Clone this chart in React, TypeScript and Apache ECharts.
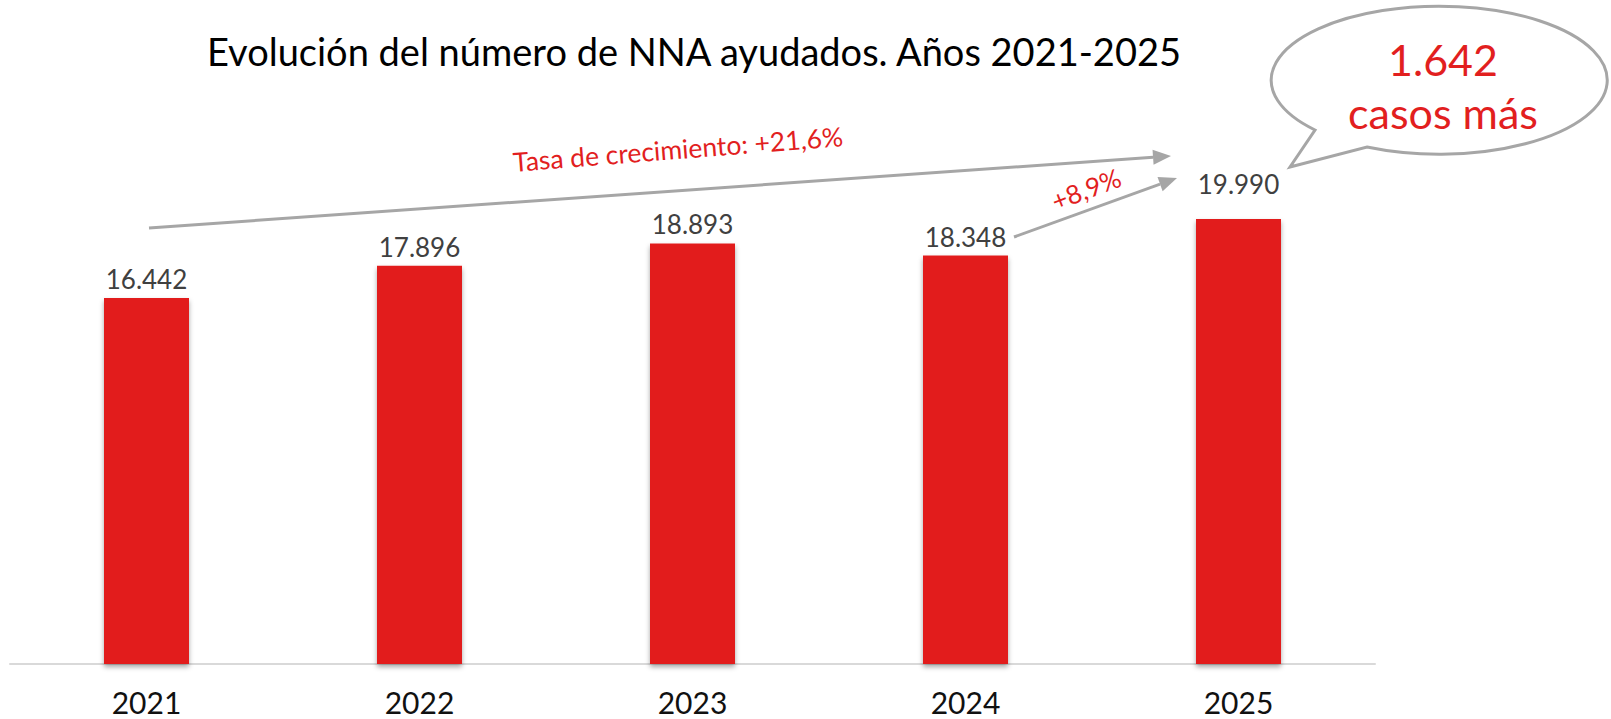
import React, { useEffect, useRef } from "react";
import * as echarts from "echarts";

const years = ["2021", "2022", "2023", "2024", "2025"];
const cases = [16442, 17896, 18893, 18348, 19990];
const titleText = "Evolución del número de NNA ayudados. Años 2021-2025";
const growthTotal = "Tasa de crecimiento: +21,6%";
const growthLast = "+8,9%";
const extraCases = "1.642";
const extraCasesLabel = "casos más";

const RED = "#E21F1F";
const GREY = "#A6A6A6";
const FONT = "Lato, 'Noto Sans', sans-serif";

const fmt = (n: number) => String(n).replace(/\B(?=(\d{3})+(?!\d))/g, ".");

echarts.graphic.registerShape(
  "bubble",
  echarts.graphic.extendPath(
    "M 1367 147 A 168 74 0 1 0 1315 130 L 1290 167 Z",
    {}
  )
);

function arrow(x1: number, y1: number, x2: number, y2: number) {
  const dx = x2 - x1;
  const dy = y2 - y1;
  const len = Math.sqrt(dx * dx + dy * dy);
  const ux = dx / len;
  const uy = dy / len;
  const hl = 18;
  const hw = 7.5;
  const bx = x2 - ux * hl;
  const by = y2 - uy * hl;
  const nx = -uy;
  const ny = ux;
  return [
    {
      type: "line",
      shape: { x1, y1, x2: bx, y2: by },
      style: { stroke: GREY, lineWidth: 3 },
      z: 10,
    },
    {
      type: "polygon",
      shape: {
        points: [
          [x2, y2],
          [bx + nx * hw, by + ny * hw],
          [bx - nx * hw, by - ny * hw],
        ],
      },
      style: { fill: GREY },
      z: 10,
    },
  ];
}

export default function App() {
  const ref = useRef<HTMLDivElement>(null);
  useEffect(() => {
    if (!ref.current) return;
    const chart = echarts.init(ref.current, null, { renderer: "svg" });
    const data = cases.map((v, i) => {
      const item: any = { value: v };
      if (i === cases.length - 1) {
        item.label = { distance: 22 };
      }
      return item;
    });
    chart.setOption({
      animation: false,
      grid: { left: 10, right: 236, top: 107.5, bottom: 55, containLabel: false },
      xAxis: {
        type: "category",
        data: years,
        axisLine: { show: true, lineStyle: { color: "#D9D9D9", width: 2 } },
        axisTick: { show: false },
        axisLabel: {
          color: "#111",
          fontFamily: FONT,
          fontSize: 30,
          lineHeight: 30,
          margin: 23,
        },
      },
      yAxis: {
        type: "value",
        min: 0,
        max: 25000,
        show: false,
        splitLine: { show: false },
      },
      series: [
        {
          type: "bar",
          data,
          barWidth: 85,
          itemStyle: {
            color: RED,
            shadowColor: "rgba(0,0,0,0.35)",
            shadowBlur: 5,
            shadowOffsetY: 3,
          },
          label: {
            show: true,
            position: "top",
            distance: 6,
            color: "#404040",
            fontFamily: FONT,
            fontSize: 26,
            formatter: (p: any) => fmt(p.value),
          },
        },
      ],
      graphic: [
        {
          type: "text",
          x: 694,
          y: 51,
          style: {
            text: titleText,
            fill: "#000",
            font: `38px ${FONT}`,
            textAlign: "center",
            textVerticalAlign: "middle",
          },
        },
        ...arrow(149, 228, 1171, 156),
        ...arrow(1014, 237, 1177, 178),
        {
          type: "text",
          x: 678,
          y: 149,
          rotation: (4.5 * Math.PI) / 180,
          style: {
            text: growthTotal,
            fill: RED,
            font: `26.5px ${FONT}`,
            textAlign: "center",
            textVerticalAlign: "middle",
          },
        },
        {
          type: "text",
          x: 1086,
          y: 189,
          rotation: (21 * Math.PI) / 180,
          style: {
            text: growthLast,
            fill: RED,
            font: `26px ${FONT}`,
            textAlign: "center",
            textVerticalAlign: "middle",
          },
        },
        {
          type: "bubble",
          x: 0,
          y: 0,
          style: { fill: "#fff", stroke: GREY, lineWidth: 3 },
          z: 20,
        },
        {
          type: "text",
          x: 1443,
          y: 59,
          z: 21,
          style: {
            text: extraCases,
            fill: RED,
            font: `43px ${FONT}`,
            textAlign: "center",
            textVerticalAlign: "middle",
          },
        },
        {
          type: "text",
          x: 1443,
          y: 112,
          z: 21,
          style: {
            text: extraCasesLabel,
            fill: RED,
            font: `43px ${FONT}`,
            textAlign: "center",
            textVerticalAlign: "middle",
          },
        },
      ],
    });
    return () => chart.dispose();
  }, []);
  return (
    <div
      ref={ref}
      style={{ position: "absolute", left: 0, top: 0, width: 1611, height: 719 }}
    />
  );
}
